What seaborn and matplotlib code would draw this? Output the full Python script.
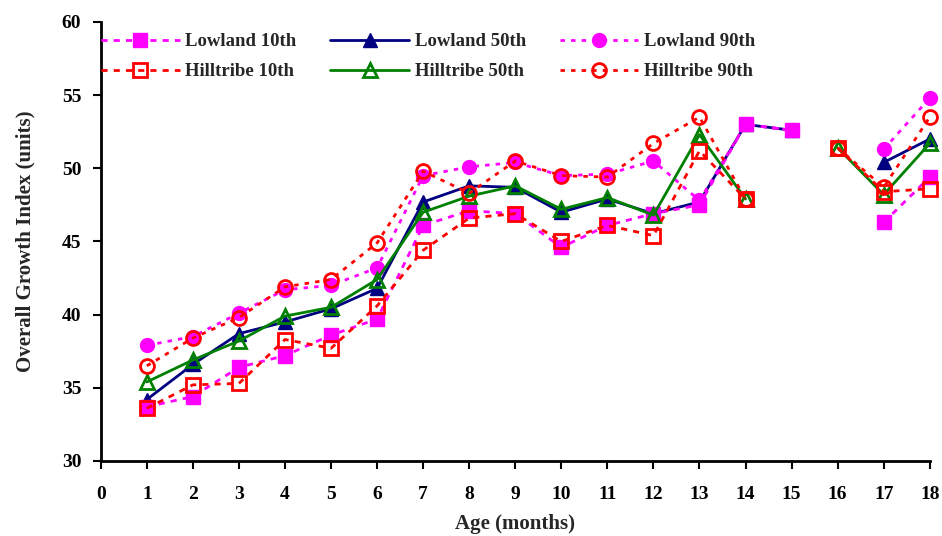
import numpy as np
import pandas as pd
import matplotlib
matplotlib.use("Agg")
import matplotlib.pyplot as plt
from matplotlib.lines import Line2D
import seaborn as sns

sns.set_theme(style="white")
plt.rcParams["font.family"] = ["Liberation Serif", "DejaVu Serif"]
plt.rcParams["font.weight"] = "bold"

nan = np.nan
months = list(range(1, 19))

lowland_10 = [33.7, 34.4, 36.4, 37.2, 38.6, 39.7, 46.1, 47.1, 46.9, 44.6, 46.1, 46.9, 47.5, 53.0, 52.6, nan, 46.3, 49.4]
lowland_50 = [34.2, 36.6, 38.7, 39.5, 40.4, 41.8, 47.7, 48.8, 48.7, 47.0, 47.9, 46.9, 47.7, 53.0, 52.6, nan, 50.4, 52.0]
lowland_90 = [37.9, 38.5, 40.1, 41.7, 42.0, 43.2, 49.5, 50.1, 50.4, 49.5, 49.6, 50.5, 47.8, 53.0, 52.6, nan, 51.3, 54.8]
hilltribe_10 = [33.6, 35.2, 35.3, 38.3, 37.7, 40.6, 44.4, 46.6, 46.9, 45.0, 46.1, 45.4, 51.2, 47.9, nan, 51.4, 48.4, 48.6]
hilltribe_50 = [35.4, 36.9, 38.2, 39.9, 40.5, 42.4, 47.0, 48.1, 48.8, 47.2, 48.0, 46.8, 52.3, 47.9, nan, 51.4, 48.2, 51.7]
hilltribe_90 = [36.5, 38.4, 39.8, 41.9, 42.4, 44.9, 49.8, 48.3, 50.5, 49.5, 49.4, 51.7, 53.5, 47.9, nan, 51.4, 48.7, 53.5]

x_ticks = list(range(0, 19))
y_ticks = [30, 35, 40, 45, 50, 55, 60]

dot = (0, (1.6, 2.2))
dash = (0, (2.2, 2.2))

# label, values, color, line style, marker, filled, zorder
series = [
    ("Lowland 50th", lowland_50, "#000080", "-", "^", True, 3.0),
    ("Lowland 90th", lowland_90, "#FF00FF", dot, "o", True, 3.1),
    ("Lowland 10th", lowland_10, "#FF00FF", dash, "s", True, 3.2),
    ("Hilltribe 50th", hilltribe_50, "#008000", "-", "^", False, 3.3),
    ("Hilltribe 90th", hilltribe_90, "#FF0000", dot, "o", False, 3.4),
    ("Hilltribe 10th", hilltribe_10, "#FF0000", dash, "s", False, 3.5),
]


def segments(xs, ys):
    """Long-form frame with a segment id so gaps (missing months) stay broken."""
    rows, seg, prev_nan = [], 0, False
    for xv, yv in zip(xs, ys):
        if np.isnan(yv):
            prev_nan = True
            continue
        if prev_nan:
            seg += 1
            prev_nan = False
        rows.append((xv, yv, seg))
    return pd.DataFrame(rows, columns=["month", "value", "seg"])


fig = plt.figure(figsize=(9.42, 5.36), dpi=100)
ax = fig.add_axes([0.107, 0.140, 0.880, 0.819])

handles = {}
for label, vals, color, ls, mk, filled, z in series:
    df = segments(months, vals)
    face = color if filled else "none"
    mew = 1.0 if filled else 2.0
    sns.lineplot(data=df, x="month", y="value", units="seg", estimator=None,
                 sort=False, ax=ax, color=color, linestyle=ls, linewidth=2.0,
                 marker=mk, markersize=10, markerfacecolor=face,
                 markeredgecolor=color, markeredgewidth=mew,
                 zorder=z, clip_on=False, legend=False)
    handles[label] = Line2D([], [], color=color, linestyle=ls, linewidth=2.0,
                            marker=mk, markersize=10, markerfacecolor=face,
                            markeredgecolor=color, markeredgewidth=mew)

order = ["Lowland 10th", "Hilltribe 10th", "Lowland 50th", "Hilltribe 50th",
         "Lowland 90th", "Hilltribe 90th"]
leg = ax.legend([handles[k] for k in order], order, ncol=3, loc="upper left",
                bbox_to_anchor=(0.0, 0.975), frameon=False, fontsize=13.5,
                handlelength=4.2, handletextpad=0.3, columnspacing=1.8,
                labelspacing=0.7, borderaxespad=0.0, borderpad=0.0)
for t in leg.get_texts():
    t.set_fontweight("bold")

ax.set_xlim(0, 18)
ax.set_ylim(30, 60)
ax.set_xticks(x_ticks)
ax.set_yticks(y_ticks)
ax.set_xticklabels([str(v) for v in x_ticks], fontsize=14, fontweight="bold")
ax.set_yticklabels([str(v) for v in y_ticks], fontsize=14, fontweight="bold")
ax.set_xlabel("Age (months)", fontsize=15, fontweight="bold", labelpad=8)
ax.set_ylabel("Overall Growth Index (units)", fontsize=15, fontweight="bold", labelpad=19)

for side in ("top", "right"):
    ax.spines[side].set_visible(False)
for side in ("left", "bottom"):
    ax.spines[side].set_color("black")
    ax.spines[side].set_linewidth(2.0)
ax.tick_params(axis="x", direction="out", length=6, width=1.5, colors="black", pad=12)
ax.tick_params(axis="y", direction="out", length=6, width=1.5, colors="black", pad=8)
ax.tick_params(bottom=True, left=True)
ax.grid(False)

fig.savefig("out.png", dpi=100)
